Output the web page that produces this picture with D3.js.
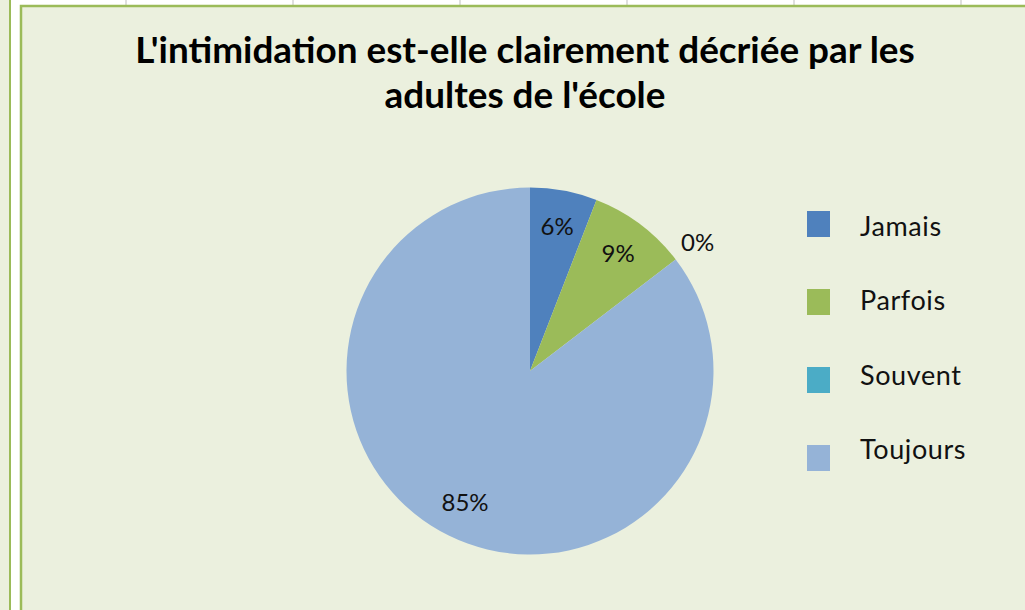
<!DOCTYPE html>
<html>

<head>
    <title>PieChart</title>
    <script src="https://cdn.jsdelivr.net/npm/d3@7"></script>
    <style>
        body { margin: 0; background: #ffffff; }
        svg { display: block; }
    </style>
</head>

<body>
    <svg width="1025" height="610" id="mainsvg"></svg>
    <script>
        const categories = ["Jamais", "Parfois", "Souvent", "Toujours"];
        const values = [5.9, 8.7, 0, 85.4];
        const colors = ["#4f81bd", "#9bbb59", "#4bacc6", "#95b3d7"];
        const titleLines = ["L'intimidation est-elle clairement décriée par les", "adultes de l'école"];

        const svg = d3.select('#mainsvg');
        const width = +svg.attr('width');
        const height = +svg.attr('height');
        const font = 'Lato, "Open Sans", sans-serif';
        const bg = '#ebf0de';
        const frame = '#9bbb59';

        // neighbouring chart on the left, cut off
        svg.append('rect').attr('x', -20).attr('y', -20).attr('width', 30).attr('height', height + 40)
            .attr('fill', bg).attr('stroke', frame).attr('stroke-width', 2);

        // worksheet gridline stubs in the white gap
        const gridX = [126, 293, 460, 627, 794, 961];
        svg.selectAll('.gridstub').data(gridX).join('line')
            .attr('class', 'gridstub')
            .attr('x1', d => d).attr('x2', d => d)
            .attr('y1', 0).attr('y2', 5)
            .attr('stroke', '#d4d4d4').attr('stroke-width', 1.5);

        // main chart area
        svg.append('rect').attr('x', 21).attr('y', 6).attr('width', width + 20).attr('height', height + 20)
            .attr('fill', bg).attr('stroke', frame).attr('stroke-width', 2.5);

        // title
        const title = svg.append('g').attr('id', 'title');
        const titleWidths = [780, 284];
        titleLines.forEach((t, i) => {
            const txt = title.append('text')
                .attr('x', 525).attr('y', 63 + i * 45)
                .attr('text-anchor', 'middle')
                .attr('font-family', font).attr('font-weight', 'bold')
                .attr('font-size', 34).attr('fill', '#000')
                .text(t);
            const w = txt.node().getComputedTextLength();
            txt.attr('font-size', 34 * titleWidths[i] / w);
        });
        // keep both title lines the same size
        const fs = d3.min(title.selectAll('text').nodes(), n => +n.getAttribute('font-size'));
        title.selectAll('text').attr('font-size', fs);

        // pie
        const cx = 530, cy = 371, r = 183.5;
        const g = svg.append('g').attr('id', 'maingroup')
            .attr('transform', `translate(${cx}, ${cy})`);

        const pie = d3.pie().sort(null).value(d => d.value);
        const arcs = pie(categories.map((c, i) => ({ name: c, value: values[i] })));
        const arc = d3.arc().innerRadius(0).outerRadius(r);
        const color = d3.scaleOrdinal().domain(categories).range(colors);

        g.selectAll('.slice').data(arcs).join('path')
            .attr('class', 'slice')
            .attr('d', arc)
            .attr('fill', d => color(d.data.name));

        const labelArc = d3.arc().innerRadius(r * 0.8).outerRadius(r * 0.8);
        const outerArc = d3.arc().innerRadius(r * 1.15).outerRadius(r * 1.15);
        g.selectAll('.label').data(arcs).join('text')
            .attr('class', 'label')
            .attr('transform', d => `translate(${(d.data.value === 0 ? outerArc : labelArc).centroid(d)})`)
            .attr('text-anchor', 'middle')
            .attr('dy', '0.36em')
            .attr('font-family', font)
            .attr('font-size', 24)
            .attr('fill', '#111')
            .text(d => Math.round(d.data.value) + '%');

        // legend
        const keyY = d3.scalePoint().domain(categories).range([224, 458]);
        const textY = d3.scalePoint().domain(categories).range([236, 459]);
        const legend = svg.append('g').attr('id', 'legend');
        legend.selectAll('.key').data(categories).join('rect')
            .attr('class', 'key')
            .attr('x', 807).attr('y', d => keyY(d) - 13)
            .attr('width', 23).attr('height', 26)
            .attr('fill', d => color(d));
        legend.selectAll('.keytext').data(categories).join('text')
            .attr('class', 'keytext')
            .attr('x', 860).attr('y', d => textY(d))
            .attr('font-family', font).attr('font-size', 27)
            .attr('letter-spacing', 0.6)
            .attr('fill', '#111')
            .text(d => d);
    </script>
</body>

</html>
